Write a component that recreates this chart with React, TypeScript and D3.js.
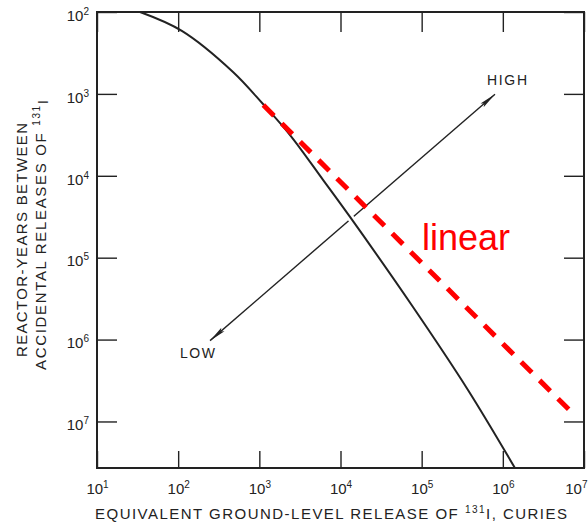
import * as d3 from "d3";
import React, { useRef, useEffect } from "react";

// decade ticks
const xTicks = [1e1, 1e2, 1e3, 1e4, 1e5, 1e6, 1e7];
const yTicks = [1e2, 1e3, 1e4, 1e5, 1e6, 1e7];

// curve (release in curies vs reactor-years)
const curveX = [33.9, 111, 474, 1110, 2390, 6090, 13100, 78200, 372000, 1.41e6];
const curveY = [100, 170, 540, 1330, 3180, 11200, 31800, 400000, 4.12e6, 3.7e7];

// red dashed "linear" line
const linearX = [1120, 7.05e6];
const linearY = [1370, 7.73e6];

// LOW -> HIGH double arrow
const arrowX = [247, 8.0e5];
const arrowY = [1.03e6, 1.01e3];

const W = 588;
const H = 526;

export default function App() {
  const svgRef = useRef(null);

  useEffect(() => {
    const x = d3.scaleLog().domain([1e1, 1e7]).range([97, 584]);
    const y = d3.scaleLog().domain([1e2, 3.7e7]).range([12, 468]);
    const ink = "#222";
    const font = "'Liberation Sans', Arial, sans-serif";

    const svgEl = d3.select(svgRef.current);
    svgEl.selectAll("*").remove();
    const svg = svgEl.append("g");

    const defs = svg.append("defs");
    defs.append("marker")
      .attr("id", "head")
      .attr("viewBox", "0 0 17 6")
      .attr("refX", 17)
      .attr("refY", 3)
      .attr("markerWidth", 17)
      .attr("markerHeight", 6)
      .attr("markerUnits", "userSpaceOnUse")
      .attr("orient", "auto-start-reverse")
      .append("path")
      .attr("d", "M0,0.6 L17,3 L0,5.4 L3,3 Z")
      .attr("fill", ink);

    // arrow line
    const arrowPts = arrowX.map((v, i) => [x(v), y(arrowY[i])]);
    svg.append("path")
      .attr("d", d3.line()(arrowPts))
      .attr("stroke", ink)
      .attr("stroke-width", 1.4)
      .attr("fill", "none")
      .attr("marker-start", "url(#head)")
      .attr("marker-end", "url(#head)");

    // curve (white halo breaks the arrow where they cross)
    const line = d3.line()
      .x((d) => x(d[0]))
      .y((d) => y(d[1]))
      .curve(d3.curveCatmullRom.alpha(0.5));
    const pts = curveX.map((v, i) => [v, curveY[i]]);
    svg.append("path")
      .attr("d", line(pts))
      .attr("stroke", "#fff")
      .attr("stroke-width", 7)
      .attr("fill", "none");
    svg.append("path")
      .attr("d", line(pts))
      .attr("stroke", ink)
      .attr("stroke-width", 2)
      .attr("fill", "none");

    // frame
    svg.append("rect")
      .attr("x", x(1e1))
      .attr("y", y(1e2))
      .attr("width", x(1e7) - x(1e1))
      .attr("height", y.range()[1] - y(1e2))
      .attr("fill", "none")
      .attr("stroke", ink)
      .attr("stroke-width", 2);

    const supLabels = (sel, sup) => {
      sel.selectAll(".tick text").each(function (d) {
        const t = d3.select(this);
        t.text(null);
        t.append("tspan").text("10");
        t.append("tspan")
          .text(String(Math.round(Math.log10(d))))
          .attr("font-size", 10)
          .attr("dy", sup);
      });
    };

    // axes: ticks point inward
    const bottom = svg.append("g")
      .attr("transform", `translate(0,${y.range()[1]})`)
      .call(d3.axisBottom(x).tickValues(xTicks).tickSize(-17).tickPadding(15).tickFormat(() => ""));
    bottom.call(supLabels, "-0.6em");
    // last label sits on the page edge: keep it inside
    bottom.selectAll(".tick text")
      .filter((d) => d === 1e7)
      .attr("text-anchor", "end")
      .attr("x", W - x(1e7) - 1);

    const left = svg.append("g")
      .attr("transform", `translate(${x(1e1)},0)`)
      .call(d3.axisLeft(y).tickValues(yTicks).tickSize(-20).tickPadding(8).tickFormat(() => ""));
    left.selectAll(".tick text").attr("dy", "0.55em");
    left.call(supLabels, "-0.6em");

    svg.append("g")
      .attr("transform", `translate(0,${y(1e2)})`)
      .call(d3.axisTop(x).tickValues(xTicks).tickSize(-20).tickFormat(() => ""));
    svg.append("g")
      .attr("transform", `translate(${x(1e7)},0)`)
      .call(d3.axisRight(y).tickValues(yTicks).tickSize(-20).tickFormat(() => ""));

    svg.selectAll(".domain").remove();
    svg.selectAll(".tick line").attr("stroke", ink).attr("stroke-width", 1.4);
    svg.selectAll(".tick text")
      .attr("fill", ink)
      .attr("font-size", 15)
      .attr("font-family", font);

    // red dashed line
    const linPts = linearX.map((v, i) => [x(v), y(linearY[i])]);
    svg.append("path")
      .attr("d", d3.line()(linPts))
      .attr("stroke", "#ff0000")
      .attr("stroke-width", 5)
      .attr("stroke-dasharray", "15 11")
      .attr("fill", "none");

    svg.append("text")
      .attr("x", 422)
      .attr("y", 250)
      .attr("fill", "#ff0000")
      .attr("font-size", 36)
      .attr("font-family", font)
      .text("linear");

    // arrow labels
    svg.append("text")
      .attr("x", 487).attr("y", 85)
      .attr("font-size", 14).attr("font-family", font).attr("fill", ink)
      .attr("textLength", 40).attr("lengthAdjust", "spacing")
      .text("HIGH");
    svg.append("text")
      .attr("x", 180).attr("y", 358)
      .attr("font-size", 14).attr("font-family", font).attr("fill", ink)
      .attr("textLength", 35).attr("lengthAdjust", "spacing")
      .text("LOW");

    // x axis title
    const xt = svg.append("text")
      .attr("x", 95).attr("y", 519)
      .attr("font-size", 15).attr("font-family", font).attr("fill", ink)
      .attr("textLength", 472).attr("lengthAdjust", "spacing");
    xt.append("tspan").text("EQUIVALENT GROUND-LEVEL RELEASE OF ");
    xt.append("tspan").text("131").attr("font-size", 10).attr("dy", -6);
    xt.append("tspan").text("I, CURIES").attr("dy", 6);

    // y axis title, two lines
    svg.append("text")
      .attr("transform", "translate(27,240) rotate(-90)")
      .attr("text-anchor", "middle")
      .attr("font-size", 15).attr("font-family", font).attr("fill", ink)
      .attr("textLength", 234).attr("lengthAdjust", "spacing")
      .text("REACTOR-YEARS BETWEEN");
    const yt = svg.append("text")
      .attr("transform", "translate(46,235) rotate(-90)")
      .attr("text-anchor", "middle")
      .attr("font-size", 15).attr("font-family", font).attr("fill", ink)
      .attr("textLength", 270).attr("lengthAdjust", "spacing");
    yt.append("tspan").text("ACCIDENTAL RELEASES OF ");
    yt.append("tspan").text("131").attr("font-size", 10).attr("dy", -6);
    yt.append("tspan").text("I").attr("dy", 8);
  });

  return (
    <svg
      ref={svgRef}
      width={W}
      height={H}
      viewBox={`0 0 ${W} ${H}`}
      style={{ position: "absolute", left: 0, top: 0, background: "#fff" }}
    />
  );
}
